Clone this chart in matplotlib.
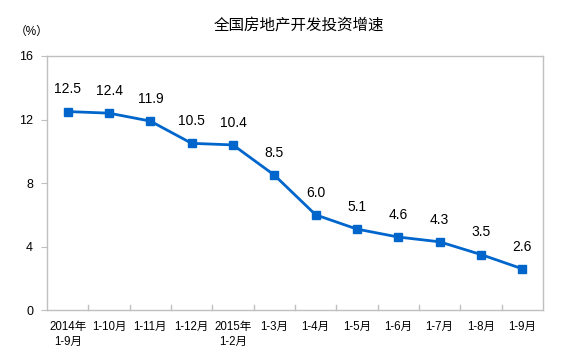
import matplotlib.pyplot as plt

plt.rcParams['font.family'] = ['Liberation Sans', 'Noto Sans CJK SC', 'DejaVu Sans']

months = ['2014年\n1-9月', '1-10月', '1-11月', '1-12月', '2015年\n1-2月', '1-3月',
          '1-4月', '1-5月', '1-6月', '1-7月', '1-8月', '1-9月']
growth = [12.5, 12.4, 11.9, 10.5, 10.4, 8.5, 6.0, 5.1, 4.6, 4.3, 3.5, 2.6]
y_ticks = [0, 4, 8, 12, 16]

fig = plt.figure(figsize=(5.72, 3.52), dpi=100)
ax = fig.add_axes([0.0822, 0.119, 0.867, 0.722])

x = list(range(len(growth)))
ax.plot(x, growth, color='#0066CC', lw=2, marker='s', ms=5.5)
for xi, v in zip(x, growth):
    ax.annotate('{:.1f}'.format(v), (xi, v), xytext=(0, 11), textcoords='offset points',
                ha='center', va='bottom', fontsize=10)

ax.set_xlim(-0.5, len(growth) - 0.5)
ax.set_ylim(0, 16)
ax.set_yticks(y_ticks)
ax.tick_params(axis='y', length=4, color='#BFBFBF', labelsize=9, pad=6)

ax.set_xticks(x)
ax.set_xticklabels(months, fontsize=8.3, linespacing=1.3)
ax.tick_params(axis='x', length=0, pad=8)
for b in [i + 0.5 for i in range(len(growth) - 1)]:
    ax.plot([b, b], [0, 0.35], color='#BFBFBF', lw=1, clip_on=False)

for s in ax.spines.values():
    s.set_color('#BFBFBF')
    s.set_linewidth(1)

fig.text(0.522, 0.929, '全国房地产开发投资增速', ha='center', va='center', fontsize=11.2)
fig.text(0.055, 0.909, '（%）', ha='center', va='center', fontsize=8.5)

plt.savefig('out.png', dpi=100)
